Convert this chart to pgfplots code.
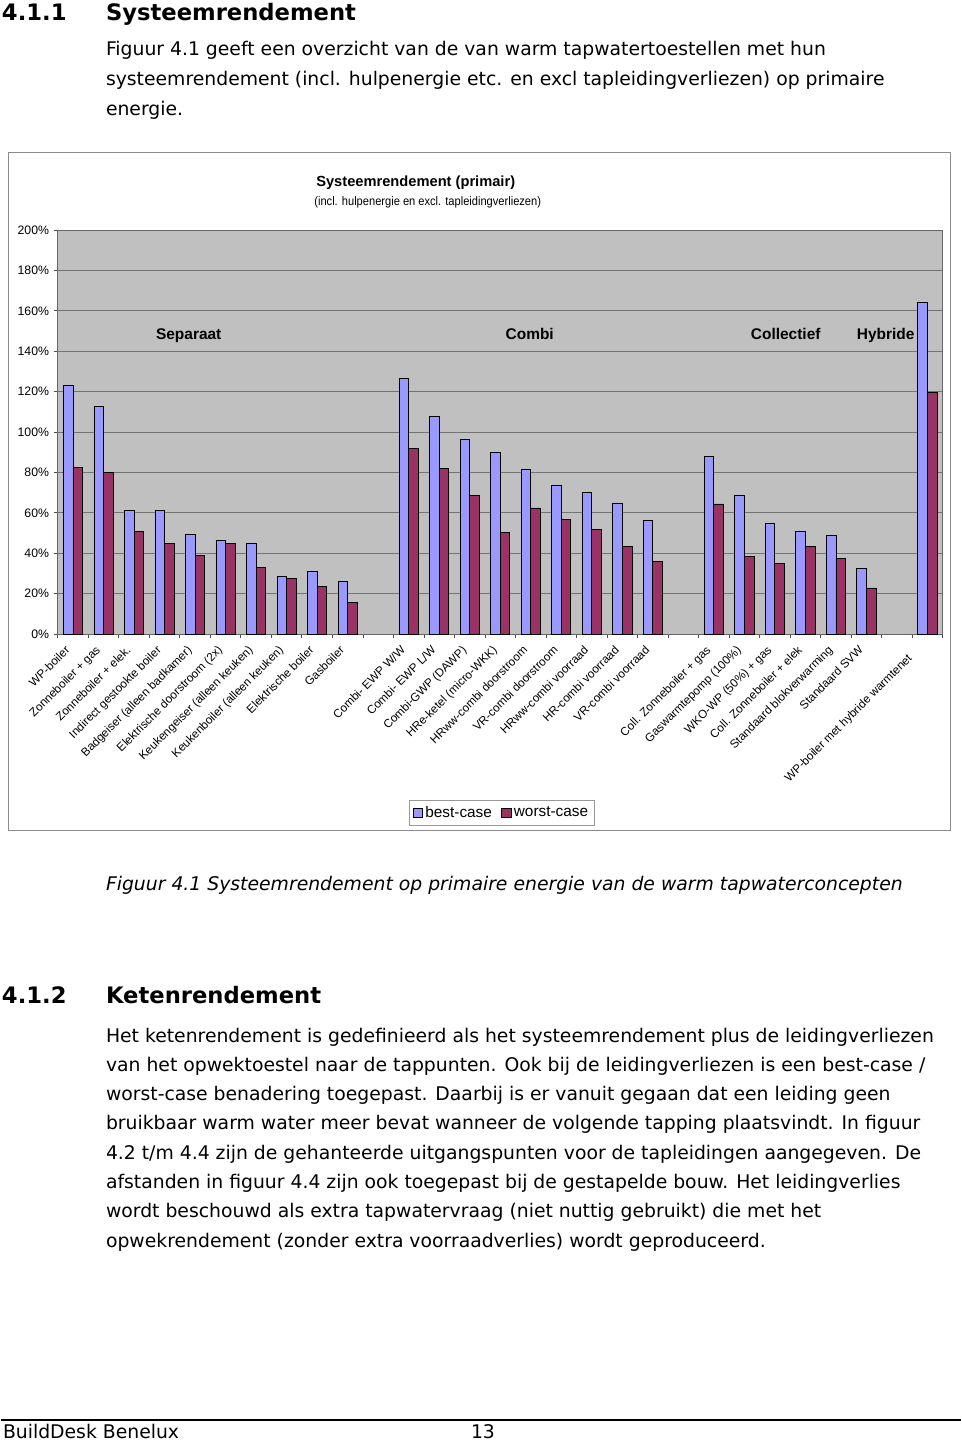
\documentclass[border=0pt]{standalone}
\usepackage{fontspec}
\usepackage{graphicx}
\usepackage{pgfplots}
\usepackage{pgfplotstable}
\pgfplotsset{compat=1.18}
\setmainfont{DejaVu Sans}
\newfontfamily\chartfont{Liberation Sans}
\newfontfamily\bodyfont{DejaVu Sans}
\definecolor{best}{HTML}{9999FF}
\definecolor{worst}{HTML}{993366}
\definecolor{plotbg}{HTML}{C0C0C0}

\pgfplotstableread{
x best worst
0 123.0 82.4
1 112.6 80.1
2 61.1 50.9
3 61.1 44.7
4 49.4 39.0
5 46.2 44.7
6 44.7 32.8
7 28.6 27.4
8 31.0 23.6
9 25.9 15.8
11 126.4 91.9
12 107.8 82.0
13 96.1 68.8
14 89.9 50.2
15 81.5 62.4
16 73.8 56.8
17 70.2 51.7
18 64.9 43.2
19 56.3 35.9
21 88.1 64.4
22 68.5 38.4
23 54.8 34.9
24 50.7 43.2
25 48.8 37.4
26 32.6 22.8
28 164.2 119.7
}\datatable

\newcommand\bodysize{\fontsize{14.1}{16}\selectfont}
\newcommand\headsize{\fontsize{17}{20}\selectfont}

\begin{document}
\begin{tikzpicture}
\begin{scope}[x=0.75pt,y=-0.75pt]
\path[use as bounding box] (0,0) rectangle (960,1446);
\draw[draw=black!45, line width=0.75pt] (8,152) rectangle (950,830);
\end{scope}

\begin{axis}[
  at={(42.75pt,-475.5pt)}, anchor=south west,
  scale only axis, width=663.75pt, height=303pt,
  xmin=-0.5, xmax=28.5, ymin=0, ymax=200,
  ybar=0pt, bar width=7.2pt,
  axis background/.style={fill=plotbg},
  axis line style={draw=black!60, line width=0.6pt},
  ymajorgrids, grid style={draw=black!55, line width=0.6pt},
  ytick={0,20,...,200},
  yticklabels={0\%,20\%,40\%,60\%,80\%,100\%,120\%,140\%,160\%,180\%,200\%},
  xtick={0,...,27},
  xticklabels={{WP-boiler},{Zonneboiler + gas},{Zonneboiler + elek.},{Indirect gestookte boiler},{Badgeiser (alleen badkamer)},{Elektrische doorstroom (2x)},{Keukengeiser (alleen keuken)},{Keukenboiler (alleen keuken)},{Elektrische boiler},{Gasboiler},{},{Combi- EWP W/W},{Combi- EWP L/W},{Combi-GWP (DAWP)},{HRe-ketel (micro-WKK)},{HRww-combi doorstroom},{VR-combi doorstroom},{HRww-combi voorraad},{HR-combi voorraad},{VR-combi voorraad},{},{Coll. Zonneboiler + gas},{Gaswarmtepomp (100\%)},{WKO-WP (50\%) + gas},{Coll. Zonneboiler + elek},{Standaard blokverwarming},{Standaard SVW},{}},
  x tick label style={xshift=-6.5pt, yshift=-3.5pt, rotate=45, anchor=north east, font=\chartfont\fontsize{8.8}{10}\selectfont, inner sep=1pt},
  extra x ticks={28},
  extra x tick labels={WP-boiler met hybride warmtenet},
  extra x tick style={major tick length=0pt, xticklabel style={xshift=-13pt}},
  y tick label style={font=\chartfont\fontsize{9.2}{10}\selectfont},
  xtick pos=lower, ytick pos=left,
  minor xtick={-0.5,0.5,...,28.5},
  major x tick style={draw=none},
  tick align=outside, major tick length=3pt, minor tick length=3pt,
  tick style={black!70, line width=0.6pt},
  legend style={at={(0.5017,-0.443)}, anchor=center, legend columns=2, draw=black!40,
    font=\chartfont\fontsize{11.5}{13}\selectfont, inner sep=2.5pt,
    /tikz/every even column/.append style={column sep=5pt}},
  legend image code/.code={\draw[#1,draw=black,line width=0.5pt] (0pt,-3.5pt) rectangle (7pt,3.5pt);},
]
\addplot[fill=best, draw=black, line width=0.6pt] table[x=x,y=best]{\datatable};
\addplot[fill=worst, draw=black, line width=0.6pt] table[x=x,y=worst]{\datatable};
\legend{best-case,worst-case}
\end{axis}

\begin{scope}[x=0.75pt,y=-0.75pt]
% chart titles
\node[font=\chartfont\bfseries\fontsize{11}{13}\selectfont] at (415,183) {Systeemrendement (primair)};
\node[font=\chartfont\fontsize{9.2}{10}\selectfont] at (427,202) {\resizebox{170pt}{\height}{(incl. hulpenergie en excl. tapleidingverliezen)}};
\begin{scope}[every node/.style={anchor=base, font=\chartfont\bfseries\fontsize{11.6}{13}\selectfont}]
\node at (188,339) {Separaat};
\node at (529,339) {Combi};
\node at (785,339) {Collectief};
\node at (885,339) {Hybride};
\end{scope}

% document text
\begin{scope}[every node/.style={anchor=base west, inner sep=0pt}]
\node[font=\bodyfont\bfseries\headsize] at (1,20) {4.1.1};
\node[font=\bodyfont\bfseries\headsize] at (105,20) {Systeemrendement};
\node[font=\bodyfont\bodysize] at (105,55) {Figuur 4.1 geeft een overzicht van de van warm tapwatertoestellen met hun};
\node[font=\bodyfont\bodysize] at (105,85) {systeemrendement (incl. hulpenergie etc. en excl tapleidingverliezen) op primaire};
\node[font=\bodyfont\bodysize] at (105,115) {energie.};

\node[font=\bodyfont\itshape\bodysize] at (105,890) {Figuur 4.1 Systeemrendement op primaire energie van de warm tapwaterconcepten};

\node[font=\bodyfont\bfseries\headsize] at (1,1003) {4.1.2};
\node[font=\bodyfont\bfseries\headsize] at (105,1003) {Ketenrendement};
\node[font=\bodyfont\bodysize] at (105,1042) {Het ketenrendement is gedefinieerd als het systeemrendement plus de leidingverliezen};
\node[font=\bodyfont\bodysize] at (105,1071.3) {van het opwektoestel naar de tappunten. Ook bij de leidingverliezen is een best-case /};
\node[font=\bodyfont\bodysize] at (105,1100.6) {worst-case benadering toegepast. Daarbij is er vanuit gegaan dat een leiding geen};
\node[font=\bodyfont\bodysize] at (105,1129.9) {bruikbaar warm water meer bevat wanneer de volgende tapping plaatsvindt. In figuur};
\node[font=\bodyfont\bodysize] at (105,1159.2) {4.2 t/m 4.4 zijn de gehanteerde uitgangspunten voor de tapleidingen aangegeven. De};
\node[font=\bodyfont\bodysize] at (105,1188.5) {afstanden in figuur 4.4 zijn ook toegepast bij de gestapelde bouw. Het leidingverlies};
\node[font=\bodyfont\bodysize] at (105,1217.8) {wordt beschouwd als extra tapwatervraag (niet nuttig gebruikt) die met het};
\node[font=\bodyfont\bodysize] at (105,1247.1) {opwekrendement (zonder extra voorraadverlies) wordt geproduceerd.};

\node[font=\bodyfont\bodysize] at (2,1438) {BuildDesk Benelux};
\node[font=\bodyfont\bodysize] at (470,1438) {13};
\end{scope}
\draw[black, line width=1.1pt] (0,1420) -- (960,1420);
\end{scope}
\end{tikzpicture}
\end{document}
